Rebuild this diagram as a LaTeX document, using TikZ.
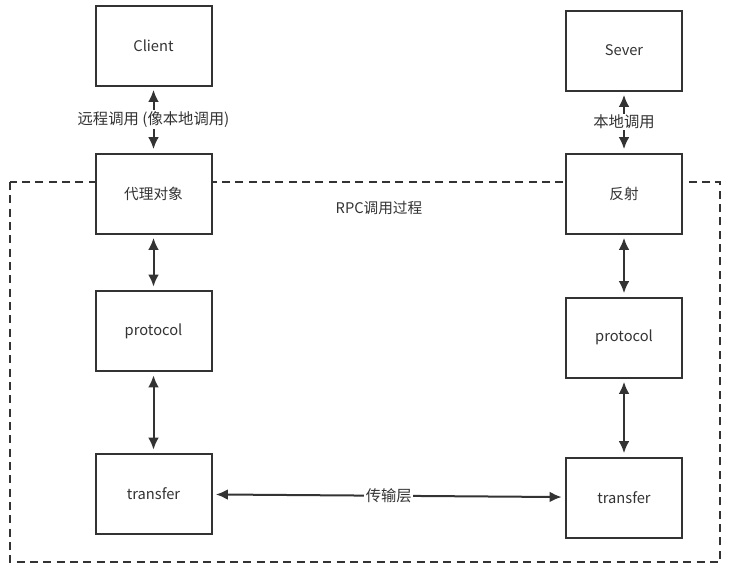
\documentclass[tikz,border=0pt]{standalone}
\usepackage{fontspec}
\newfontfamily\cjk{Noto Sans CJK SC}
\usetikzlibrary{arrows.meta,positioning,calc}
\definecolor{Ink}{HTML}{333333}
\tikzset{
 box/.style={draw=Ink, line width=1.5pt, fill=white, minimum width=87pt, minimum height=60pt, inner sep=0pt, font=\cjk\fontsize{11}{13}\selectfont, text=Ink},
 link/.style={{Latex[length=9pt,width=8pt]}-{Latex[length=9pt,width=8pt]}, line width=1.5pt, draw=Ink, shorten <=2.5pt, shorten >=2.5pt},
 tag/.style={fill=white, inner sep=1pt, font=\cjk\fontsize{11.5}{13}\selectfont, text=Ink}
}
\begin{document}
\begin{tikzpicture}[x=0.75pt,y=-0.75pt]
\useasboundingbox (0,0) rectangle (729,569);
% rpc region
\draw[draw=Ink, line width=1.5pt, dash pattern=on 6pt off 4pt] (10,182) rectangle (720,562);
\node[font=\cjk\fontsize{11}{13}\selectfont, text=Ink] (title) at (379,208) {RPC调用过程};
% caller side
\node[box] (client) at (153.5,45.5) {Client};
\node[box] (proxy) at (153.5,193.5) {代理对象};
\node[box] (lproto) at (153.5,331) {protocol};
\node[box] (ltrans) at (153.5,494) {transfer};
% callee side
\node[box] (server) at (624,50.5) {Sever};
\node[box] (reflect) at (624,193.5) {反射};
\node[box] (rproto) at (624,337.5) {protocol};
\node[box] (rtrans) at (624,497.5) {transfer};
% links
\draw[link] (client) -- node[tag] {远程调用 (像本地调用)} (proxy);
\draw[link] (proxy) -- (lproto);
\draw[link] (lproto) -- (ltrans);
\draw[link] (server) -- node[tag] {本地调用} (reflect);
\draw[link] (reflect) -- (rproto);
\draw[link] (rproto) -- (rtrans);
\draw[link] (ltrans) -- node[tag] {传输层} (rtrans);
\end{tikzpicture}
\end{document}
